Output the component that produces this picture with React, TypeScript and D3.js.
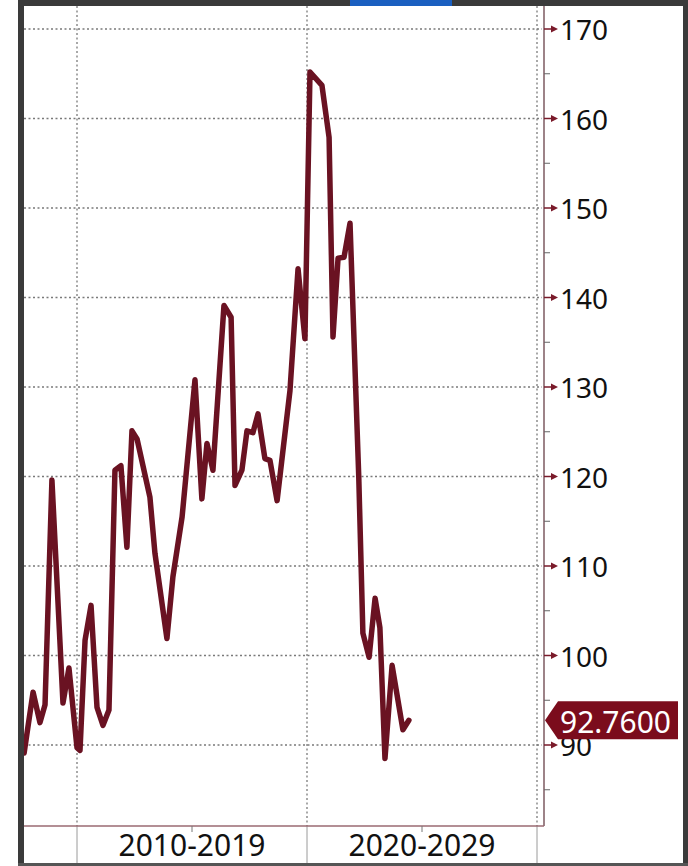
import React from "react";
import * as d3 from "d3";

// decimal-year positions of the observations and their values
const dates: number[] = [
  2007.7, 2008.09, 2008.39, 2008.61, 2008.91, 2009.39, 2009.65, 2010.0, 2010.13, 2010.35,
  2010.61, 2010.87, 2011.13, 2011.39, 2011.65, 2011.91, 2012.17, 2012.39, 2012.61, 2013.17,
  2013.39, 2013.91, 2014.17, 2014.57, 2015.13, 2015.43, 2015.65, 2015.91, 2016.39, 2016.7,
  2016.87, 2017.17, 2017.39, 2017.65, 2017.87, 2018.17, 2018.39, 2018.7, 2019.26, 2019.61,
  2019.91, 2020.13, 2020.65, 2020.96, 2021.13, 2021.35, 2021.61, 2021.87, 2022.25, 2022.43,
  2022.7, 2022.96, 2023.17, 2023.39, 2023.7, 2024.17, 2024.43,
];
const values: number[] = [
  89.1, 95.9, 92.5, 94.5, 119.6, 94.7, 98.6, 89.7, 89.4, 101.7,
  105.6, 94.2, 92.2, 93.9, 120.7, 121.2, 112.1, 125.1, 124.2, 117.7,
  111.4, 101.9, 108.8, 115.5, 130.8, 117.5, 123.7, 120.7, 139.1, 137.8,
  119.0, 120.7, 125.1, 124.9, 127.0, 122.0, 121.8, 117.3, 129.6, 143.2,
  135.4, 165.2, 163.7, 157.9, 135.6, 144.4, 144.5, 148.3, 120.0, 102.5,
  99.8, 106.4, 103.1, 88.5, 98.9, 91.7, 92.76,
];
const yTicks: number[] = [90, 100, 110, 120, 130, 140, 150, 160, 170];
const yMinorTicks: number[] = [85, 95, 105, 115, 125, 135, 145, 155, 165];
const decadeBounds: number[] = [2010, 2020, 2030];
const decadeLabels: string[] = ["2010-2019", "2020-2029"];
const lastValueLabel = "92.7600";

const W = 688;
const H = 866;
const plotLeft = 24;
const plotTop = 6;
const axisX = 544;
const plotBottom = 826;
const LINE = "#6a1222";
const FONT = "'Noto Sans', 'Open Sans', sans-serif";

export default function App() {
  const x = d3.scaleLinear().domain([2010, 2020]).range([77, 307]);
  const y = d3.scaleLinear().domain([90, 170]).range([745, 29]);

  const line = d3
    .line<number>()
    .x((_, i) => x(dates[i]))
    .y((v) => y(v));

  const last = values[values.length - 1];
  const ly = y(last);

  return (
    <svg
      width={W}
      height={H}
      style={{ position: "absolute", left: 0, top: 0, background: "#fff" }}
    >
      <defs>
        <clipPath id="plotClip">
          <rect x={plotLeft} y={plotTop} width={axisX - plotLeft} height={plotBottom - plotTop} />
        </clipPath>
      </defs>

      {/* horizontal grid */}
      {yTicks.map((t) => (
        <line
          key={"hg" + t}
          x1={plotLeft}
          x2={axisX - 2}
          y1={y(t)}
          y2={y(t)}
          stroke="#7a7a7a"
          strokeWidth={1.3}
          strokeDasharray="2,2.5"
        />
      ))}
      {/* vertical grid */}
      {decadeBounds.map((d) => (
        <g key={"vg" + d}>
          <line
            x1={x(d)}
            x2={x(d)}
            y1={plotTop}
            y2={plotBottom}
            stroke="#7a7a7a"
            strokeWidth={1.3}
            strokeDasharray="2,2.5"
          />
          <line x1={x(d)} x2={x(d)} y1={plotBottom} y2={H} stroke="#9a9a9a" strokeWidth={1} />
        </g>
      ))}

      {/* series */}
      <path
        d={line(values) || ""}
        fill="none"
        stroke={LINE}
        strokeWidth={5.5}
        strokeLinejoin="round"
        strokeLinecap="round"
        clipPath="url(#plotClip)"
      />

      {/* axes */}
      <line x1={axisX} x2={axisX} y1={plotTop} y2={plotBottom} stroke="#7d5a60" strokeWidth={1.5} />
      <line x1={plotLeft} x2={axisX} y1={plotBottom} y2={plotBottom} stroke="#9a6a72" strokeWidth={1.5} />

      {/* bottom mid ticks and labels */}
      {decadeLabels.map((lab, i) => {
        const cx = (x(decadeBounds[i]) + x(decadeBounds[i + 1])) / 2;
        return (
          <g key={lab}>
            <line x1={cx} x2={cx} y1={plotBottom} y2={plotBottom + 6} stroke="#777" strokeWidth={1} />
            <text
              x={cx}
              y={856}
              textAnchor="middle"
              fontFamily={FONT}
              fontSize={30}
              fill="#111"
            >
              {lab}
            </text>
          </g>
        );
      })}

      {/* minor y ticks */}
      {yMinorTicks.map((t) => (
        <line key={"mt" + t} x1={axisX} x2={axisX + 6} y1={y(t)} y2={y(t)} stroke="#666" strokeWidth={1} />
      ))}
      {/* major y ticks and labels */}
      {yTicks.map((t) => (
        <g key={"yt" + t}>
          <line x1={axisX} x2={axisX + 10} y1={y(t)} y2={y(t)} stroke="#7a1a2a" strokeWidth={1.5} />
          <path
            d={`M${axisX + 7},${y(t) - 3.5}L${axisX + 14},${y(t)}L${axisX + 7},${y(t) + 3.5}Z`}
            fill="#7a1a2a"
          />
          <text
            x={axisX + 16}
            y={y(t)}
            dominantBaseline="central"
            fontFamily={FONT}
            fontSize={28}
            fill="#111"
          >
            {t}
          </text>
        </g>
      ))}

      {/* last value badge */}
      <path
        d={`M${axisX + 1},${ly}L${axisX + 14},${ly - 19}L678,${ly - 19}L678,${ly + 19}L${axisX + 14},${ly + 19}Z`}
        fill="#7b0c1c"
      />
      <text
        x={560}
        y={ly + 1}
        dominantBaseline="central"
        fontFamily={FONT}
        fontSize={30}
        fill="#fff"
      >
        {lastValueLabel}
      </text>

      {/* frame */}
      <rect x={18} y={0} width={W - 18} height={6} fill="#3a3a3a" />
      <rect x={350} y={0} width={102} height={6} fill="#1a5fc0" />
      <rect x={18} y={0} width={6} height={H} fill="#3a3a3a" />
      <rect x={683} y={0} width={5} height={H} fill="#3a3a3a" />
      <rect x={18} y={863} width={W - 18} height={3} fill="#555" />
    </svg>
  );
}
